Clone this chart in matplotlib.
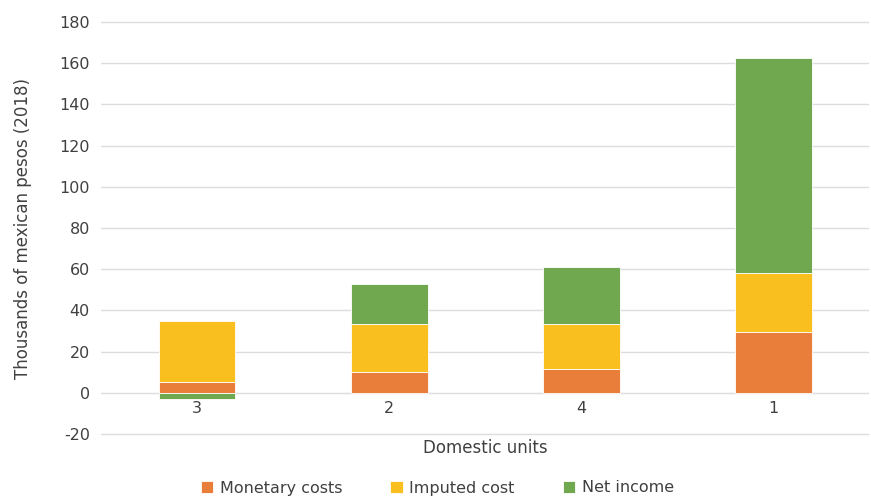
import matplotlib

matplotlib.use("Agg")
import matplotlib.pyplot as plt
import numpy as np

units = ["3", "2", "4", "1"]
monetary = [5, 10, 11.5, 29.5]
imputed = [30, 23.5, 22, 28.5]
net_income = [-3, 19.5, 27.5, 104.5]

ORANGE = "#E97D3A"
YELLOW = "#F8BF1F"
GREEN = "#6FA84F"
TXT = "#404040"

plt.rcParams["axes.unicode_minus"] = False

fig = plt.figure(figsize=(8.71, 5.0), dpi=100)
ax = fig.add_axes([0.116, 0.128, 0.882, 0.83])

x = np.arange(len(units))
mon = np.array(monetary)
imp = np.array(imputed)
net = np.array(net_income)
w = 0.4

ax.bar(x, mon, w, color=ORANGE, edgecolor="white", lw=0.6, label="Monetary costs", zorder=3)
ax.bar(x, imp, w, bottom=mon, color=YELLOW, edgecolor="white", lw=0.6, label="Imputed cost", zorder=3)
# negative net income hangs below zero, like Excel stacking
net_bottom = np.where(net >= 0, mon + imp, 0)
ax.bar(x, net, w, bottom=net_bottom, color=GREEN, edgecolor="white", lw=0.6, label="Net income", zorder=3)

ax.set_xlim(-0.5, len(units) - 0.5)
ax.set_ylim(-21, 180.5)
ax.set_yticks(np.arange(-20, 181, 20))
ax.yaxis.grid(True, color="#dcdcdc", lw=1.0, zorder=0)
ax.set_axisbelow(True)
for s in ax.spines.values():
    s.set_visible(False)
ax.tick_params(axis="both", length=0, labelsize=11.5, colors=TXT)
ax.tick_params(axis="y", pad=8)

# category labels sit just under the zero line
ax.set_xticks([])
for xi, u in zip(x, units):
    ax.text(xi, -4, u, ha="center", va="top", fontsize=11.5, color=TXT)

ax.set_xlabel("Domestic units", fontsize=12, color=TXT, labelpad=2)
ax.set_ylabel("Thousands of mexican pesos (2018)", fontsize=12, color=TXT, labelpad=20)

fig.legend(loc="center", bbox_to_anchor=(0.502, 0.024), ncol=3, frameon=False,
           fontsize=11.5, handlelength=0.8, handleheight=0.8, columnspacing=3.0,
           handletextpad=0.4, labelcolor=TXT)

fig.savefig("out.png", dpi=100)
